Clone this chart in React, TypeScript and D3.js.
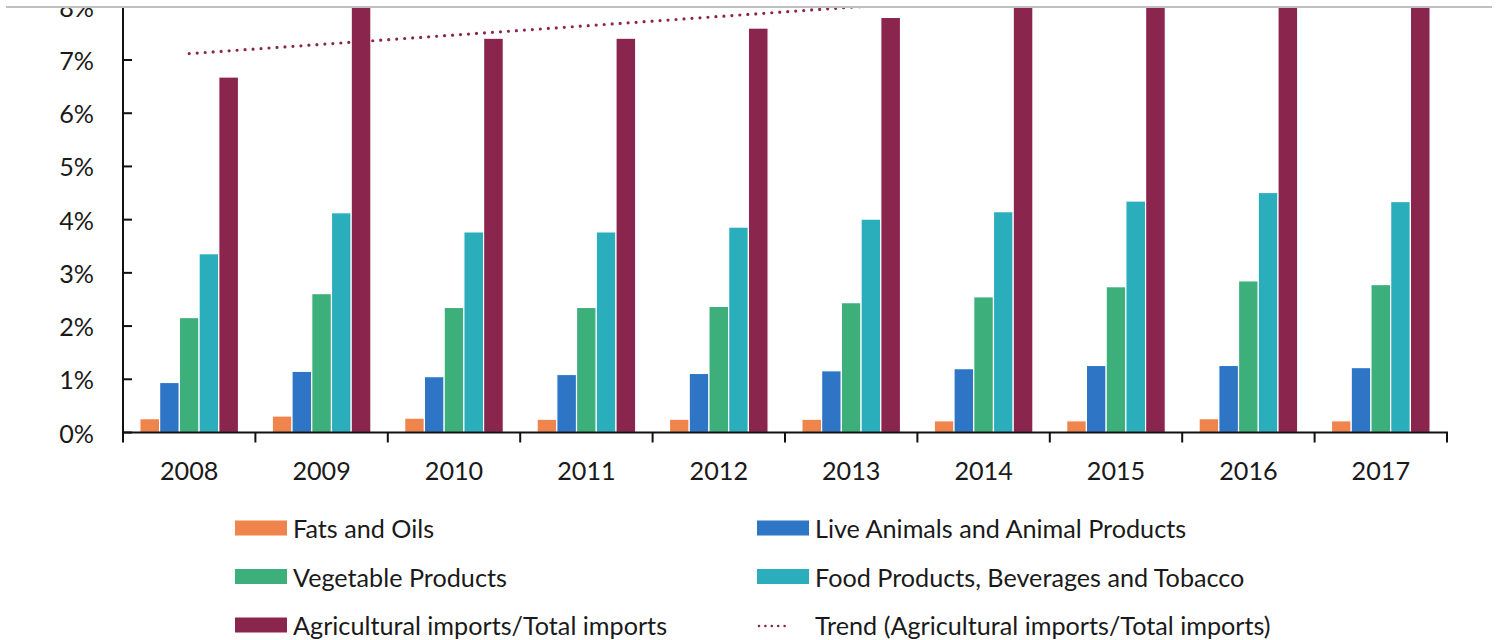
import React from "react";
import * as d3 from "d3";

const years = ["2008", "2009", "2010", "2011", "2012", "2013", "2014", "2015", "2016", "2017"];
const fatsOils = [0.26, 0.31, 0.27, 0.25, 0.25, 0.25, 0.22, 0.22, 0.26, 0.22];
const liveAnimals = [0.94, 1.15, 1.05, 1.09, 1.11, 1.16, 1.2, 1.26, 1.26, 1.22];
const vegetable = [2.16, 2.61, 2.35, 2.35, 2.37, 2.44, 2.55, 2.74, 2.85, 2.78];
const foodProducts = [3.36, 4.13, 3.77, 3.77, 3.86, 4.01, 4.15, 4.35, 4.51, 4.34];
const agriShare = [6.68, 8.3, 7.41, 7.41, 7.6, 7.8, 8.1, 8.4, 8.6, 8.5];
const trendYears = ["2008", "2017"];
const trendValues = [7.12, 8.69];
const yTicks = [0, 1, 2, 3, 4, 5, 6, 7, 8];

const seriesNames = [
  "Fats and Oils",
  "Live Animals and Animal Products",
  "Vegetable Products",
  "Food Products, Beverages and Tobacco",
  "Agricultural imports/Total imports",
];
const seriesColors = ["#EF844D", "#2E75C6", "#3DAF7B", "#2AAEBB", "#8A254D"];
const seriesData = [fatsOils, liveAnimals, vegetable, foodProducts, agriShare];
const trendName = "Trend (Agricultural imports/Total imports)";

const FONT = "Lato, 'Open Sans', sans-serif";
const FS = 25.2;
const TXT = "#1a1a1a";

export default function App() {
  const W = 1499;
  const H = 640;
  const left = 123;
  const right = 1447;
  const y0 = 432.5;
  const y7 = 60;

  const x = d3.scaleBand<string>().domain(years).range([left, right]).paddingInner(0).paddingOuter(0);
  const y = d3.scaleLinear().domain([0, 7]).range([y0, y7]);
  const groupW = x.bandwidth() * 0.745;
  const xs = d3
    .scaleBand<number>()
    .domain(d3.range(seriesNames.length))
    .range([0, groupW])
    .padding(0);
  const groupOffset = (x.bandwidth() - groupW) / 2;

  const trendLine = d3
    .line<number>()
    .x((_, i) => (x(trendYears[i]) as number) + x.bandwidth() / 2)
    .y((d) => y(d));

  const legendItems = [
    { name: seriesNames[0], color: seriesColors[0], col: 0, row: 0, type: "rect" },
    { name: seriesNames[1], color: seriesColors[1], col: 1, row: 0, type: "rect" },
    { name: seriesNames[2], color: seriesColors[2], col: 0, row: 1, type: "rect" },
    { name: seriesNames[3], color: seriesColors[3], col: 1, row: 1, type: "rect" },
    { name: seriesNames[4], color: seriesColors[4], col: 0, row: 2, type: "rect" },
    { name: trendName, color: seriesColors[4], col: 1, row: 2, type: "line" },
  ];
  const colX = [235, 757];
  const rowY = [528, 576.5, 625];

  return (
    <svg width={W} height={H} style={{ position: "absolute", left: 0, top: 0, background: "#fff" }}>
      <defs>
        <clipPath id="frame">
          <rect x={0} y={8} width={W} height={H - 8} />
        </clipPath>
      </defs>
      <rect x={0} y={0} width={W} height={H} fill="#fff" />
      <g clipPath="url(#frame)">
        {seriesData.map((vals, si) => (
          <g key={si}>
            {vals.map((v, i) => {
              const bx = (x(years[i]) as number) + groupOffset + (xs(si) as number);
              return (
                <rect
                  key={i}
                  x={bx}
                  y={y(v)}
                  width={xs.bandwidth()}
                  height={y0 - y(v)}
                  fill={seriesColors[si]}
                  stroke="#fff"
                  strokeWidth={1.2}
                />
              );
            })}
          </g>
        ))}
        <path
          d={trendLine(trendValues) || ""}
          fill="none"
          stroke={seriesColors[4]}
          strokeWidth={3.2}
          strokeDasharray="0 8"
          strokeLinecap="round"
        />
        <line x1={left} x2={left} y1={0} y2={y0} stroke="#111" strokeWidth={2} />
        {yTicks.map((t) => (
          <g key={t}>
            <line x1={left} x2={left + 9} y1={y(t)} y2={y(t)} stroke="#111" strokeWidth={2} />
            <text
              x={94}
              y={y(t)}
              textAnchor="end"
              dominantBaseline="central"
              fontFamily={FONT}
              fontSize={FS}
              fill={TXT}
            >
              {t}%
            </text>
          </g>
        ))}
        <line x1={left - 1} x2={right + 1} y1={y0} y2={y0} stroke="#111" strokeWidth={2} />
        {[...years.map((yr) => x(yr) as number), right].map((px, i) => (
          <line key={i} x1={px} x2={px} y1={y0} y2={y0 + 10} stroke="#111" strokeWidth={2} />
        ))}
        {years.map((yr) => (
          <text
            key={yr}
            x={(x(yr) as number) + x.bandwidth() / 2}
            y={470}
            textAnchor="middle"
            dominantBaseline="central"
            fontFamily={FONT}
            fontSize={FS}
            fill={TXT}
          >
            {yr}
          </text>
        ))}
        {legendItems.map((it, i) => {
          const lx = colX[it.col];
          const ly = rowY[it.row];
          return (
            <g key={i}>
              {it.type === "rect" ? (
                <rect x={lx} y={ly - 7.5} width={52} height={15} fill={it.color} />
              ) : (
                <line
                  x1={lx + 2}
                  x2={lx + 34}
                  y1={ly + 1}
                  y2={ly + 1}
                  stroke={it.color}
                  strokeWidth={2.6}
                  strokeDasharray="0 6.4"
                  strokeLinecap="round"
                />
              )}
              <text
                x={lx + 58}
                y={ly}
                dominantBaseline="central"
                fontFamily={FONT}
                fontSize={FS}
                fill={TXT}
              >
                {it.name}
              </text>
            </g>
          );
        })}
      </g>
      <line x1={6} x2={1492} y1={7} y2={7} stroke="#C0C0C0" strokeWidth={2} />
    </svg>
  );
}
